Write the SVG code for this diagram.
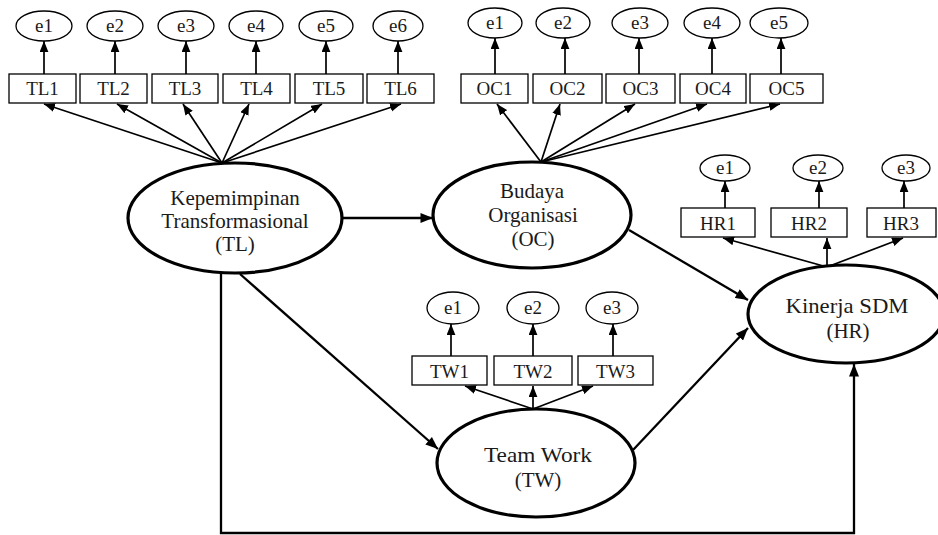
<svg xmlns="http://www.w3.org/2000/svg" width="938" height="535" viewBox="0 0 938 535">
<style>
text{font-family:"Liberation Serif","Times New Roman",serif;fill:#1a1a1a;text-anchor:middle}
.lv{font-size:21px}
.sm{font-size:19px}
.lat{fill:#fff;stroke:#000;stroke-width:3.2}
.err{fill:#fff;stroke:#000;stroke-width:1.3}
.box{fill:#fff;stroke:#000;stroke-width:1.3}
.a{stroke:#000;stroke-width:1.7;fill:none;marker-end:url(#ah)}
.s{stroke:#000;stroke-width:2.3;fill:none;marker-end:url(#ahb)}
</style>
<defs>
<marker id="ah" viewBox="0 0 10 8" refX="10" refY="4" markerWidth="11" markerHeight="9" markerUnits="userSpaceOnUse" orient="auto"><path d="M0,0 L10,4 L0,8 z" fill="#000"/></marker>
<marker id="ahb" viewBox="0 0 10 8" refX="10" refY="4" markerWidth="13" markerHeight="10" markerUnits="userSpaceOnUse" orient="auto"><path d="M0,0 L10,4 L0,8 z" fill="#000"/></marker>
</defs>
<rect width="938" height="535" fill="#fff"/>

<g id="connectors">
<line class="a" x1="222" y1="163" x2="44" y2="104"/>
<line class="a" x1="222" y1="163" x2="117" y2="104"/>
<line class="a" x1="222" y1="163" x2="183" y2="104"/>
<line class="a" x1="222" y1="163" x2="249" y2="104"/>
<line class="a" x1="222" y1="163" x2="322" y2="104"/>
<line class="a" x1="222" y1="163" x2="401" y2="104"/>
<line class="a" x1="44" y1="74" x2="44" y2="41"/>
<line class="a" x1="115" y1="74" x2="115" y2="41"/>
<line class="a" x1="186" y1="74" x2="186" y2="41"/>
<line class="a" x1="256" y1="74" x2="256" y2="41"/>
<line class="a" x1="326" y1="74" x2="326" y2="41"/>
<line class="a" x1="398" y1="74" x2="398" y2="41"/>
<line class="a" x1="541" y1="162" x2="497" y2="104"/>
<line class="a" x1="541" y1="162" x2="560" y2="104"/>
<line class="a" x1="541" y1="162" x2="635" y2="104"/>
<line class="a" x1="541" y1="162" x2="707" y2="104"/>
<line class="a" x1="541" y1="162" x2="780" y2="104"/>
<line class="a" x1="495" y1="74" x2="495" y2="38"/>
<line class="a" x1="565" y1="74" x2="565" y2="38"/>
<line class="a" x1="639" y1="74" x2="639" y2="38"/>
<line class="a" x1="712" y1="74" x2="712" y2="38"/>
<line class="a" x1="781" y1="74" x2="781" y2="38"/>
<line class="a" x1="827" y1="267" x2="723" y2="238"/>
<line class="a" x1="827" y1="267" x2="827" y2="238"/>
<line class="a" x1="827" y1="267" x2="903" y2="238"/>
<line class="a" x1="725" y1="208" x2="725" y2="181"/>
<line class="a" x1="819" y1="208" x2="819" y2="181"/>
<line class="a" x1="904" y1="208" x2="904" y2="181"/>
<line class="a" x1="533" y1="409" x2="465" y2="386"/>
<line class="a" x1="533" y1="409" x2="533" y2="386"/>
<line class="a" x1="533" y1="409" x2="593" y2="386"/>
<line class="a" x1="451" y1="356" x2="451" y2="324"/>
<line class="a" x1="533" y1="356" x2="533" y2="324"/>
<line class="a" x1="613" y1="356" x2="613" y2="324"/>
<line class="s" x1="343" y1="218" x2="433" y2="218"/>
<line class="s" x1="240" y1="274" x2="438" y2="449"/>
<polyline class="s" points="221,274 221,533 854,533 854,364"/>
<line class="s" x1="629" y1="230" x2="748" y2="300"/>
<line class="s" x1="633" y1="450" x2="748" y2="328"/>
</g>

<g id="TL">
<ellipse class="lat" cx="235" cy="218" rx="107" ry="55"/>
<text class="lv" x="235" y="205">Kepemimpinan</text>
<text class="lv" x="235" y="228">Transformasional</text>
<text class="lv" x="235" y="251">(TL)</text>
</g>
<g id="OC">
<ellipse class="lat" cx="532" cy="215" rx="99" ry="53"/>
<text class="lv" x="532" y="198">Budaya</text>
<text class="lv" x="533" y="222">Organisasi</text>
<text class="lv" x="533" y="246">(OC)</text>
</g>
<g id="HR">
<ellipse class="lat" cx="846" cy="314" rx="98" ry="49"/>
<text class="lv" x="847" y="313" textLength="123" lengthAdjust="spacingAndGlyphs">Kinerja SDM</text>
<text class="lv" x="848" y="338">(HR)</text>
</g>
<g id="TW">
<ellipse class="lat" cx="536" cy="463" rx="99" ry="54"/>
<text class="lv" x="538" y="462" textLength="108" lengthAdjust="spacingAndGlyphs">Team Work</text>
<text class="lv" x="538" y="487">(TW)</text>
</g>

<g id="TL1"><rect class="box" x="9" y="74" width="67" height="29"/><text class="sm" x="42.5" y="95">TL1</text></g>
<g id="TL2"><rect class="box" x="80" y="74" width="67" height="29"/><text class="sm" x="113.5" y="95">TL2</text></g>
<g id="TL3"><rect class="box" x="152" y="74" width="66" height="29"/><text class="sm" x="185" y="95">TL3</text></g>
<g id="TL4"><rect class="box" x="223" y="74" width="67" height="29"/><text class="sm" x="256.5" y="95">TL4</text></g>
<g id="TL5"><rect class="box" x="295" y="74" width="68" height="29"/><text class="sm" x="329" y="95">TL5</text></g>
<g id="TL6"><rect class="box" x="367" y="74" width="67" height="29"/><text class="sm" x="400.5" y="95">TL6</text></g>
<g id="TL_e1"><ellipse class="err" cx="44" cy="26" rx="28" ry="15"/><text class="sm" x="44" y="32">e1</text></g>
<g id="TL_e2"><ellipse class="err" cx="115" cy="26" rx="28" ry="15"/><text class="sm" x="115" y="32">e2</text></g>
<g id="TL_e3"><ellipse class="err" cx="186" cy="26" rx="28" ry="15"/><text class="sm" x="186" y="32">e3</text></g>
<g id="TL_e4"><ellipse class="err" cx="256" cy="26" rx="27" ry="15"/><text class="sm" x="256" y="32">e4</text></g>
<g id="TL_e5"><ellipse class="err" cx="326" cy="26" rx="27" ry="15"/><text class="sm" x="326" y="32">e5</text></g>
<g id="TL_e6"><ellipse class="err" cx="398" cy="26" rx="25" ry="15"/><text class="sm" x="398" y="32">e6</text></g>

<g id="OC1"><rect class="box" x="461" y="74" width="67" height="29"/><text class="sm" x="494.5" y="95">OC1</text></g>
<g id="OC2"><rect class="box" x="533" y="74" width="69" height="29"/><text class="sm" x="567.5" y="95">OC2</text></g>
<g id="OC3"><rect class="box" x="606" y="74" width="69" height="29"/><text class="sm" x="640.5" y="95">OC3</text></g>
<g id="OC4"><rect class="box" x="680" y="74" width="66" height="29"/><text class="sm" x="713" y="95">OC4</text></g>
<g id="OC5"><rect class="box" x="750" y="74" width="73" height="29"/><text class="sm" x="786.5" y="95">OC5</text></g>
<g id="OC_e1"><ellipse class="err" cx="495" cy="23" rx="27" ry="15"/><text class="sm" x="495" y="29">e1</text></g>
<g id="OC_e2"><ellipse class="err" cx="563" cy="23" rx="27" ry="15"/><text class="sm" x="563" y="29">e2</text></g>
<g id="OC_e3"><ellipse class="err" cx="640" cy="23" rx="28" ry="15"/><text class="sm" x="640" y="29">e3</text></g>
<g id="OC_e4"><ellipse class="err" cx="712" cy="23" rx="28" ry="15"/><text class="sm" x="712" y="29">e4</text></g>
<g id="OC_e5"><ellipse class="err" cx="779" cy="23" rx="29" ry="15"/><text class="sm" x="779" y="29">e5</text></g>

<g id="HR1"><rect class="box" x="681" y="208" width="74" height="29"/><text class="sm" x="718" y="230">HR1</text></g>
<g id="HR2"><rect class="box" x="771" y="208" width="76" height="29"/><text class="sm" x="809" y="230">HR2</text></g>
<g id="HR3"><rect class="box" x="867" y="208" width="69" height="29"/><text class="sm" x="901" y="230">HR3</text></g>
<g id="HR_e1"><ellipse class="err" cx="725" cy="168" rx="25" ry="13"/><text class="sm" x="725" y="174">e1</text></g>
<g id="HR_e2"><ellipse class="err" cx="818" cy="168" rx="25" ry="13"/><text class="sm" x="818" y="174">e2</text></g>
<g id="HR_e3"><ellipse class="err" cx="906" cy="168" rx="24" ry="13"/><text class="sm" x="906" y="174">e3</text></g>

<g id="TW1"><rect class="box" x="412" y="356" width="75" height="29"/><text class="sm" x="449.5" y="378">TW1</text></g>
<g id="TW2"><rect class="box" x="494" y="356" width="78" height="29"/><text class="sm" x="533" y="378">TW2</text></g>
<g id="TW3"><rect class="box" x="578" y="356" width="75" height="29"/><text class="sm" x="615.5" y="378">TW3</text></g>
<g id="TW_e1"><ellipse class="err" cx="453" cy="308" rx="26" ry="16"/><text class="sm" x="453" y="314">e1</text></g>
<g id="TW_e2"><ellipse class="err" cx="533" cy="308" rx="26" ry="16"/><text class="sm" x="533" y="314">e2</text></g>
<g id="TW_e3"><ellipse class="err" cx="612" cy="308" rx="26" ry="16"/><text class="sm" x="612" y="314">e3</text></g>
</svg>
